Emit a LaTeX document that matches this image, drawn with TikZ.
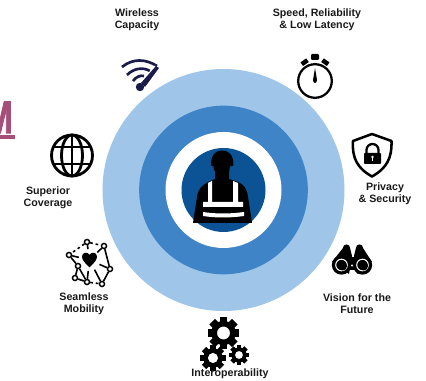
\documentclass[tikz,border=0pt]{standalone}
\usepackage{fontspec}
\setmainfont{Liberation Sans}
\newfontfamily\titlefont[FakeBold=2.5]{Liberation Sans Bold}
\usetikzlibrary{positioning}

\definecolor{ringlight}{HTML}{9FC5E8}
\definecolor{ringmid}{HTML}{3E84C6}
\definecolor{ringdark}{HTML}{0B5394}
\definecolor{wifinavy}{HTML}{1A1A4B}
\definecolor{titlemauve}{HTML}{A64D79}

\tikzset{
  pics/cog/.style n args={2}{code={
    \foreach \a in {1,...,#1}
      \fill [black,rotate=\a*360/#1] (-0.27,0.75) rectangle (0.27,1.1);
    \fill [black,even odd rule] (0,0) circle (0.84) (0,0) circle (#2);
  }}
}

\begin{document}
\begin{tikzpicture}[x=0.75pt,y=-0.75pt]
  \tikzstyle{ring}=[circle,inner sep=0pt,outer sep=0pt]
  \tikzstyle{caption}=[align=center,text=black!90,font=\bfseries\fontsize{8}{9}\selectfont]
  \tikzstyle{dot}=[circle,draw=black,fill=white,line width=1.1pt,inner sep=0pt,minimum size=3.8pt]
  \tikzstyle{hub}=[circle,inner sep=0pt,minimum size=16pt]
  \tikzstyle{link}=[line width=1.2pt]
  \tikzstyle{dlink}=[line width=1.2pt,dash pattern=on 2pt off 2.2pt]

  \useasboundingbox (0,0) rectangle (426,381);

  % rings
  \node [ring,fill=ringlight,minimum size=181.5pt] (outer) at (223.5,190) {};
  \node [ring,fill=ringmid,minimum size=126.5pt] (middle) at (outer.center) {};
  \node [ring,fill=white,minimum size=87pt] (gap) at (outer.center) {};
  \node [ring,fill=ringdark,minimum size=63pt] (core) at (outer.center) {};

  % worker
  \fill [black] (193,223) -- (197,197) .. controls (198,188) and (203,185) .. (208,182)
    -- (215,179) -- (215,170) -- (229,170) -- (229,179) -- (238,182)
    .. controls (244,185) and (247,188) .. (248,197) -- (252,223) -- cycle;
  \fill [black] (211,165.5) .. controls (211,155) and (215,150.5) .. (222,150.5)
    .. controls (229,150.5) and (233.5,155) .. (233.5,165.5) -- (230,166.5)
    .. controls (230,172) and (226,176) .. (222,176)
    .. controls (218,176) and (213.5,172) .. (213.5,166.5) -- cycle;
  \fill [white] (208,183) -- (212,181) -- (212,202) -- (233,202) -- (233,181) -- (238,183)
    -- (238,202) -- (243,202) -- (243,207) -- (203,207) -- (203,202) -- (208,202) -- cycle;
  \fill [white] (203,212) .. controls (216,214) and (230,214) .. (244,212)
    -- (244,216) .. controls (230,218) and (216,218) .. (203,216) -- cycle;

  % wifi
  \begin{scope}[wifinavy,line width=2pt]
    \draw (122,67) .. controls (133,58) and (146,59) .. (157,66);
    \draw (127,75) .. controls (134,68) and (143,67) .. (150,71);
    \draw (133,81) .. controls (136,77) and (140,75) .. (144,76);
    \fill (140,87) circle (4.2);
    \draw [white,line width=0.8pt] (143,80) -- (155,66);
    \fill (141,83) -- (156,66) -- (159,68) -- (145,87) -- cycle;
  \end{scope}

  % stopwatch
  \draw [black,line width=1.7pt] (315,81) circle (16.8);
  \fill [black,rounded corners=0.8pt] (311,54) rectangle (319,60);
  \fill [black,rotate around={35:(304.5,62)}] (301,60) rectangle (308,64.5);
  \fill [black,rotate around={-35:(325.5,62)}] (322,60) rectangle (329,64.5);
  \fill [black] (315,68) -- (317,80) .. controls (317,84) and (313,84) .. (313,80) -- cycle;

  % shield
  \draw [black,line width=1.9pt,line join=round] (372,134) -- (391.5,141)
    .. controls (392,158) and (387,168) .. (372,176.5)
    .. controls (357,168) and (352,158) .. (353,141) -- cycle;
  \draw [black,line width=1.7pt] (366.5,154) -- (366.5,150) arc [start angle=180,end angle=360,radius=6] -- (378.5,154);
  \fill [black,rounded corners=0.6pt] (364,153) rectangle (381,164);
  \fill [white] (372.5,157) circle (1.4);
  \fill [white] (372,157) rectangle (373,161.5);

  % globe
  \begin{scope}[black,line width=2.1pt]
    \draw (72,155.5) circle (20.5);
    \draw (72,155.5) ellipse (10.5 and 20.5);
    \draw (72,135) -- (72,176);
    \draw (54,147) -- (90,147);
    \draw (54,164) -- (90,164);
  \end{scope}

  % mobility graph
  \node [dot] (n1) at (87,242) {};
  \node [dot] (n2) at (104,246) {};
  \node [dot] (n3) at (69,255) {};
  \node [dot] (n4) at (78,266) {};
  \node [dot] (n5) at (110,269) {};
  \node [dot] (n6) at (75,278) {};
  \node [dot] (n7) at (87,282) {};
  \node [dot] (n8) at (102,284) {};
  \node [hub] (heart) at (89.5,260) {};
  \path [link] (n1) edge (heart) (n2) edge (heart) (n3) edge (heart)
    (n5) edge (heart) (n7) edge (heart) (n8) edge (heart)
    (n2) edge (n5) (n5) edge (n8) (n3) edge (n4) (n4) edge (n6) (n6) edge (n7) (n4) edge (n7);
  \path [dlink] (n1) edge (n2) (n1) edge (n3) (n7) edge (n8);
  \fill [black] (89.5,267.5) .. controls (85,263) and (82,260) .. (82,256.5)
    .. controls (82,252) and (88,251.5) .. (89.5,255)
    .. controls (91,251.5) and (97,252) .. (97,256.5)
    .. controls (97,260) and (94,263) .. (89.5,267.5) -- cycle;

  % binoculars
  \fill [black] (346.5,248) circle (3.6);
  \fill [black] (359.5,248) circle (3.6);
  \fill [black] (343,248) -- (332,262) -- (349,274) -- (352,256) -- (350,248) -- cycle;
  \fill [black] (356,248) -- (354,256) -- (357,274) -- (372,262) -- (363,248) -- cycle;
  \fill [black] (341.5,265) circle (9.7);
  \fill [black] (362.5,265) circle (9.7);
  \fill [black] (345,257) rectangle (359,270);
  \fill [white] (352,265.5) circle (1.2);
  \draw [white,line width=0.8pt] (341.5,265) circle (5.8);
  \draw [white,line width=0.8pt] (362.5,265) circle (5.8);
  \fill [black] (342.5,266) circle (4.6);
  \fill [black] (363.5,266) circle (4.6);

  % gears
  \pic at (223.5,333) [scale=14.5] {cog={8}{0.45}};
  \pic at (239,355) [scale=9] {cog={8}{0.45}};
  \pic at (213,358) [scale=11.5] {cog={8}{0.45}};

  % title fragment
  \node [text=titlemauve,font=\titlefont\fontsize{34}{34}\selectfont,anchor=base east,inner sep=0pt,xscale=0.74] (title) at (13,133) {M};
  \fill [titlemauve] (0,135) rectangle (15,139);

  % labels
  \node [caption] (wireless) at (137,20) {Wireless\\Capacity};
  \node [caption] (speed) at (317,20) {Speed, Reliability\\\& Low Latency};
  \node [caption] (privacy) at (385,194) {Privacy\\\& Security};
  \node [caption] (vision) at (357,304) {Vision for the\\Future};
  \node [caption] (interop) at (230,374) {Interoperability};
  \node [caption] (seamless) at (84,304) {Seamless\\Mobility};
  \node [caption] (coverage) at (48,198) {Superior\\Coverage};
\end{tikzpicture}
\end{document}
